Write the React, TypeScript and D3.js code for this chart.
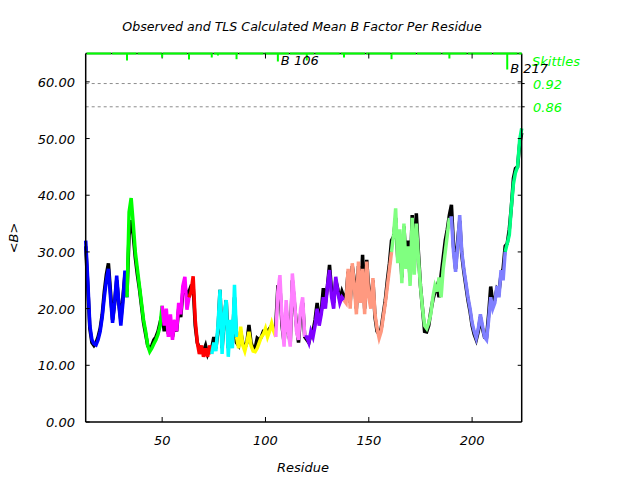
import React from 'react';
import * as d3 from 'd3';

const firstResidue = 13;
const lastResidue = 224;

// TLS calculated mean B per residue (residues 13..224)
const tlsValues: number[] = [
  // 13-33
  32, 25, 17, 14.5, 13.8, 13.6, 14.5, 16, 18.5, 22, 25, 27, 22, 17.5, 21, 25.8, 21, 17, 21, 26.7, 22,
  // 34-50
  37, 39.5, 35, 30, 27, 24, 21, 18, 16, 13.5, 12.4, 13, 13.8, 14.5, 15.5, 17, 20.5,
  // 51-63
  17, 20, 15, 19, 14.5, 18, 16, 21, 19, 24, 25.6, 19.8, 22,
  // 64-74
  23, 25.7, 18, 14, 12, 13.5, 11.5, 13, 11.5, 13.5, 12,
  // 75-86
  14, 12.5, 17, 23.3, 12, 19, 21.5, 11.5, 18, 13, 24.2, 15,
  // 87-105
  13, 16.8, 13.5, 12.5, 14, 15.9, 13.5, 12.5, 12.4, 13, 14, 15, 15.5, 16.5, 15, 16, 17.4, 16, 15,
  // 106-119
  23, 25.9, 18, 13.3, 21.5, 16, 13.3, 26.2, 22, 16, 14.5, 20, 22, 15,
  // 120-138
  15, 14, 16, 15, 17, 20, 17, 19, 22, 20, 24, 26.8, 22, 20, 25.6, 23, 21, 22, 21.5,
  // 139-161
  21, 27, 20, 28, 24, 19, 28.3, 21, 27, 19, 28.3, 22, 20, 25.4, 19, 16.5, 14.8, 16, 18.5, 21, 24, 27, 30,
  // 162-189
  33, 37.7, 28, 34, 24.5, 35, 27, 31, 24, 36, 26, 35, 29, 24, 20, 17, 16.5, 17.5, 19, 22, 24, 23, 25.5, 22, 27, 30, 33, 36,
  // 190-216
  36, 30, 26.5, 31, 36.5, 30, 27, 24.5, 22, 20, 17.5, 16, 14.8, 16.5, 19, 17, 15, 14.5, 18, 22, 20, 21, 24, 22, 26.8, 25, 30,
  // 217-224
  31.5, 33, 38, 42, 44, 45, 49.7, 51.8,
];

// Observed mean B per residue (residues 13..224)
const observedValues: number[] = [
  31, 24, 16.5, 14, 13.5, 14, 15, 16.5, 19, 23, 26, 28, 23, 18, 21, 25, 21, 18, 22, 26, 23,
  33, 35.6, 33, 29, 26, 23.5, 20.5, 17.5, 15.5, 13.5, 12.8, 13.5, 14.5, 15, 16, 17.5, 19,
  16, 19, 15.5, 18, 15, 17, 16, 20, 18.5, 23, 24, 22, 23,
  24, 24, 17, 14, 13, 13, 12.5, 13.5, 12, 13, 13,
  15, 13, 16, 23.3, 13, 18, 21.5, 13, 17, 14, 22, 14,
  13.5, 16, 14, 13, 14, 17.1, 14, 13, 13, 14.8, 14.5, 15, 16, 16, 16, 16.5, 17, 16.5, 17,
  23.9, 24, 17, 14, 20, 16, 14, 25, 21, 17, 14, 19, 21, 15,
  14.5, 14, 15.5, 16, 18, 21, 18, 19.5, 23.6, 21, 24, 27.7, 23, 21, 25, 23.5, 21.5, 23, 22,
  22, 26.5, 21, 27.5, 25, 20, 27.5, 22, 29.5, 20, 28.6, 23, 21, 25, 18.5, 16, 15.5, 16.5, 19, 21.5, 25, 28, 32,
  32.7, 36, 29, 33, 25.5, 34.5, 28, 32, 25, 36.5, 27, 36.8, 30, 24, 20, 16, 15.9, 17, 19.5, 21.5, 23, 24, 22, 26, 29, 32, 34, 36.5,
  38.3, 31, 27, 32, 35.5, 29.5, 26.5, 24, 21.5, 19.5, 17, 15.5, 14.5, 16, 18.5, 16.5, 15, 15, 19, 23.9, 21, 21.5, 23.5, 23, 26, 27, 31,
  31.5, 34, 38, 43, 44.7, 45, 49, 51,
];

// TLS segment boundaries (first residue of each segment) and colours
const segmentStarts = [13, 34, 51, 64, 75, 87, 106, 120, 139, 162, 190, 217];
const segmentColors = ['#0000ff', '#00ff00', '#ff00ff', '#ff0000', '#00ffff', '#ffff00', '#ff80ff', '#8000ff', '#ff9980', '#80ff80', '#8080ff', '#00ff80'];

// Skittles marks along the top (residue, relative score)
const skittleResidues = [33, 50, 63, 74, 77, 86, 106, 120, 138, 161, 189, 217];
const skittleScores = [7, 4, 6, 4, 2, 5.7, 8, 7, 4, 5.7, 5, 16];

const xTicks = [50, 100, 150, 200];
const yTicks = [0, 10, 20, 30, 40, 50, 60];
const thresholdValues = [59.7, 55.6];
const thresholdLabels = ['0.92', '0.86'];
const chainLabels = [{ residue: 106, text: 'B 106' }, { residue: 217, text: 'B 217' }];

const W = 640, H = 480;
const left = 85.7, right = 521.7, top = 53.5, bottom = 422;

export default function App() {
  const x = d3.scaleLinear().domain([firstResidue, lastResidue]).range([left, right]);
  const y = d3.scaleLinear().domain([0, 65]).range([bottom, top]);
  const skY = d3.scaleLinear().domain([0, 16]).range([0, 16]);
  const residues = d3.range(firstResidue, lastResidue + 1);

  const line = d3.line<number>().x((r) => x(r)).y((r) => y(tlsValues[r - firstResidue]));
  const obsLine = d3.line<number>().x((r) => x(r)).y((r) => y(observedValues[r - firstResidue]));

  const font = { fontFamily: 'DejaVu Sans', fontStyle: 'italic' as const, fontSize: 13 };

  return (
    <svg width={W} height={H} style={{ position: 'absolute', left: 0, top: 0, background: '#fff' }}>
      <text x={302} y={31} textAnchor="middle" {...font} fontSize={12.6}>Observed and TLS Calculated Mean B Factor Per Residue</text>

      {/* threshold dashed lines */}
      {thresholdValues.map((v, i) => (
        <g key={'th' + i}>
          <line x1={left} x2={right} y1={y(v)} y2={y(v)} stroke="#8c8c8c" strokeDasharray="3,3" strokeWidth={1} />
          <line x1={right} x2={right + 3} y1={y(v)} y2={y(v)} stroke="#000" />
          <text x={533} y={y(v) + 5} fill="#00ff00" {...font}>{thresholdLabels[i]}</text>
        </g>
      ))}

      {/* observed */}
      <path d={obsLine(residues) || ''} fill="none" stroke="#000" strokeWidth={3.5} />
      {/* TLS segments */}
      {segmentStarts.map((s, i) => {
        const e = i + 1 < segmentStarts.length ? segmentStarts[i + 1] - 1 : lastResidue;
        const rs = d3.range(Math.max(firstResidue, s - 1), e + 1);
        return <path key={'seg' + i} d={line(rs) || ''} fill="none" stroke={segmentColors[i]} strokeWidth={3.5} />;
      })}

      {/* frame */}
      <line x1={left} x2={left} y1={top} y2={bottom} stroke="#000" strokeWidth={1.5} />
      <line x1={right} x2={right} y1={top} y2={bottom} stroke="#000" strokeWidth={1.5} />
      <line x1={left} x2={right} y1={bottom} y2={bottom} stroke="#000" strokeWidth={1.5} />
      <line x1={left} x2={right} y1={top} y2={top} stroke="#000" strokeWidth={1.5} />
      <line x1={left} x2={right} y1={top} y2={top} stroke="#00ff00" strokeWidth={2} strokeDasharray="24.4,1" strokeDashoffset={-1} />

      {/* y ticks */}
      {yTicks.map((t) => (
        <g key={'y' + t}>
          <line x1={left} x2={left + 4} y1={y(t)} y2={y(t)} stroke="#000" />
          {t > 0 && <line x1={right - 4} x2={right} y1={y(t)} y2={y(t)} stroke="#000" />}
          <text x={75} y={y(t) + 5} textAnchor="end" {...font}>{d3.format('.2f')(t)}</text>
        </g>
      ))}
      {/* x ticks */}
      {xTicks.map((t) => (
        <g key={'x' + t}>
          <line x1={x(t)} x2={x(t)} y1={bottom} y2={bottom - 5} stroke="#000" />
          <line x1={x(t)} x2={x(t)} y1={top} y2={top + 5} stroke="#000" />
          <text x={x(t)} y={445} textAnchor="middle" {...font}>{t}</text>
        </g>
      ))}

      {/* skittles */}
      {skittleResidues.map((r, i) => (
        <line key={'sk' + i} x1={x(r)} x2={x(r)} y1={top} y2={top + skY(skittleScores[i])} stroke="#00ff00" strokeWidth={2} />
      ))}
      <text x={532} y={66} fill="#00ff00" {...font}>Skittles</text>
      {chainLabels.map((c) => (
        <text key={c.text} x={x(c.residue) + 3} y={c.residue === 106 ? 65 : 73} {...font}>{c.text}</text>
      ))}

      <text x={303} y={472} textAnchor="middle" {...font}>Residue</text>
      <text transform={`translate(18,238) rotate(-90)`} textAnchor="middle" {...font}>{'<B>'}</text>
    </svg>
  );
}
